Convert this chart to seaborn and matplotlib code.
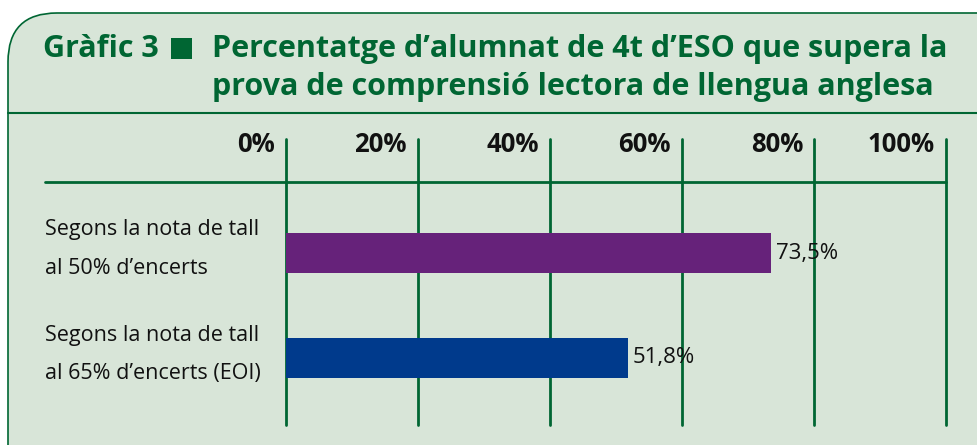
import matplotlib
matplotlib.use("Agg")
import matplotlib.pyplot as plt
import matplotlib.transforms as mtransforms
from matplotlib.patches import FancyBboxPatch, Rectangle
from matplotlib.lines import Line2D
import seaborn as sns
import pandas as pd

# ---- data ----
categories = ["Segons la nota de tall\nal 50% d\u2019encerts",
              "Segons la nota de tall\nal 65% d\u2019encerts (EOI)"]
values = [73.5, 51.8]
value_labels = ["73,5%", "51,8%"]
tick_values = [0, 20, 40, 60, 80, 100]
tick_labels = ["0%", "20%", "40%", "60%", "80%", "100%"]
bar_colors = ["#66227a", "#003a8c"]

GREEN = "#006633"
BG = "#d8e5d8"

sns.set_theme(style="white")
plt.rcParams["font.family"] = ["Open Sans", "DejaVu Sans"]

W, H = 977, 445
fig = plt.figure(figsize=(W / 100, H / 100), dpi=100)
fig.patch.set_facecolor("white")

def fx(px):
    return px / W

def fy(py):
    return 1 - py / H

# panel
panel = FancyBboxPatch((fx(8), fy(700)), fx(1200), fy(13) - fy(700),
                       boxstyle="round,pad=0,rounding_size=0.05",
                       transform=fig.transFigure, facecolor=BG,
                       edgecolor=GREEN, linewidth=1.2, mutation_aspect=W / H, zorder=-10)
fig.patches.append(panel)
fig.add_artist(Line2D([fx(8), fx(977)], [fy(113), fy(113)], color=GREEN, lw=1.5,
                      transform=fig.transFigure, zorder=-5))

# title
tkw = dict(transform=fig.transFigure, color=GREEN, fontsize=22, fontweight="bold",
           va="center", ha="left")
fig.text(fx(43), fy(49), "Gr\u00e0fic 3", **tkw)
fig.add_artist(Rectangle((fx(171), fy(59)), fx(21), fy(38) - fy(59), transform=fig.transFigure,
                         facecolor=GREEN, edgecolor="none", zorder=5))
fig.text(fx(212), fy(49), "Percentatge d\u2019alumnat de 4t d\u2019ESO que supera la", **tkw)
fig.text(fx(212), fy(87), "prova de comprensi\u00f3 lectora de llengua anglesa", **tkw)

# axes
x0, x1 = 286, 946
y_top, y_bot = 139, 425
ax = fig.add_axes([fx(x0), fy(y_bot), fx(x1 - x0), fy(y_top) - fy(y_bot)])
ax.set_facecolor("none")

df = pd.DataFrame({"cat": categories, "val": values})
sns.barplot(data=df, x="val", y="cat", hue="cat", palette=bar_colors, orient="h",
            width=0.38, ax=ax, legend=False, saturation=1, linewidth=0)

c0, c1 = 253, 358
unit = c1 - c0
ax.set_ylim(1 + (y_bot - c1) / unit, 0 - (c0 - y_top) / unit)
ax.set_xlim(0, 100)
for s in ax.spines.values():
    s.set_visible(False)
ax.set_xticks([])
ax.set_yticks([])
ax.set_xlabel("")
ax.set_ylabel("")

for t in tick_values:
    ax.axvline(t, color=GREEN, lw=2, zorder=0, clip_on=False)

# horizontal axis line
fig.add_artist(Line2D([fx(45), fx(x1)], [fy(182), fy(182)], color=GREEN, lw=2,
                      transform=fig.transFigure))

# tick labels
tb = mtransforms.blended_transform_factory(ax.transData, fig.transFigure)
for t, lab in zip(tick_values, tick_labels):
    ax.text(t, fy(144), lab, transform=tb + mtransforms.ScaledTranslation(-11 / 100, 0, fig.dpi_scale_trans),
            ha="right", va="center", fontsize=18.5, fontweight="bold", color="#111111")

# category labels
cb = mtransforms.blended_transform_factory(fig.transFigure, ax.transData)
for i, cat in enumerate(categories):
    l1, l2 = cat.split("\n")
    ax.text(fx(45), i - 23 / unit, l1, transform=cb, ha="left", va="center",
            fontsize=15.5, color="#111111")
    ax.text(fx(45), i + 15 / unit, l2, transform=cb, ha="left", va="center",
            fontsize=15.5, color="#111111")

# value labels
for i, (v, lab) in enumerate(zip(values, value_labels)):
    ax.annotate(lab, (v, i), xytext=(3.5, 0), textcoords="offset points",
                ha="left", va="center", fontsize=16, color="#111111")

fig.savefig("out.png", dpi=100, facecolor="white")
